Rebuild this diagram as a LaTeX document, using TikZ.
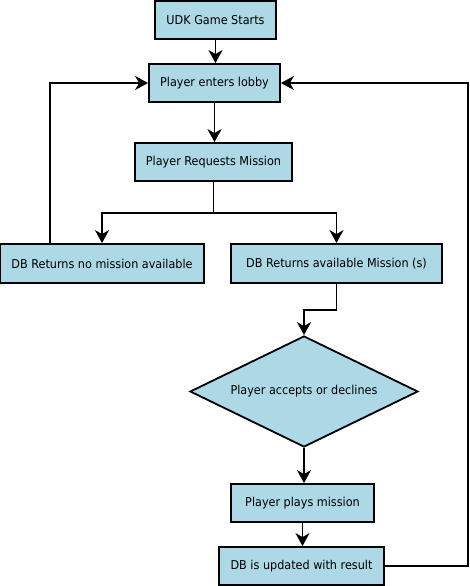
\documentclass[tikz,border=0pt]{standalone}
\usepackage{fontspec}
\setmainfont{DejaVu Sans}[FakeStretch=0.92]
\usetikzlibrary{shapes.geometric,arrows.meta}
\definecolor{boxblue}{HTML}{ADD8E6}
\tikzset{
  box/.style={draw=black, line width=1.8pt, fill=boxblue, inner sep=0pt, font=\fontsize{12.2}{14}\selectfont},
  dec/.style={draw=black, line width=1.8pt, fill=boxblue, diamond, aspect=2.054, inner sep=0pt, font=\fontsize{12.2}{14}\selectfont},
  arr/.style={line width=1.8pt, -{Stealth[length=13pt,width=14pt,inset=4pt]}},
  ln/.style={line width=1.8pt}
}
\begin{document}
\begin{tikzpicture}[x=1pt,y=-1pt]
\useasboundingbox (0,0) rectangle (469,586);
\node[box, minimum width=121pt, minimum height=38pt] (start) at (215.5,20) {UDK Game Starts};
\node[box, minimum width=131pt, minimum height=38pt] (lobby) at (214.5,83) {Player enters lobby};
\node[box, minimum width=157pt, minimum height=38pt] (req) at (213.5,162) {Player Requests Mission};
\node[box, minimum width=204pt, minimum height=39pt] (nomis) at (102,263.5) {DB Returns no mission available};
\node[box, minimum width=211pt, minimum height=39pt] (avail) at (336.5,263.5) {DB Returns available Mission (s)};
\node[dec, minimum width=228pt, minimum height=111pt] (dia) at (304,391.5) {Player accepts or declines};
\node[box, minimum width=143pt, minimum height=38pt] (play) at (302.5,503) {Player plays mission};
\node[box, minimum width=165pt, minimum height=38pt] (upd) at (301.5,566) {DB is updated with result};
\coordinate (br) at (213.5,212.7);
\coordinate (jn) at (336.5,310);
\coordinate (rt) at (468,566);
\draw[arr] (start.south) -- (start.south |- lobby.north);
\draw[arr] (lobby.south) -- (lobby.south |- req.north);
\draw[ln] (req.south) -- (br);
\draw[arr] (br) -| (nomis.north);
\draw[arr] (br) -| (avail.north);
\draw[arr] (avail.south) -- (jn) -| (dia.north);
\draw[arr] (dia.south) -- (dia.south |- play.north);
\draw[arr] (play.south) -- (play.south |- upd.north);
\draw[arr] (upd.east) -- (rt) |- (lobby.east);
\draw[arr] ([xshift=51pt]nomis.north west) |- (lobby.west);
\end{tikzpicture}
\end{document}
